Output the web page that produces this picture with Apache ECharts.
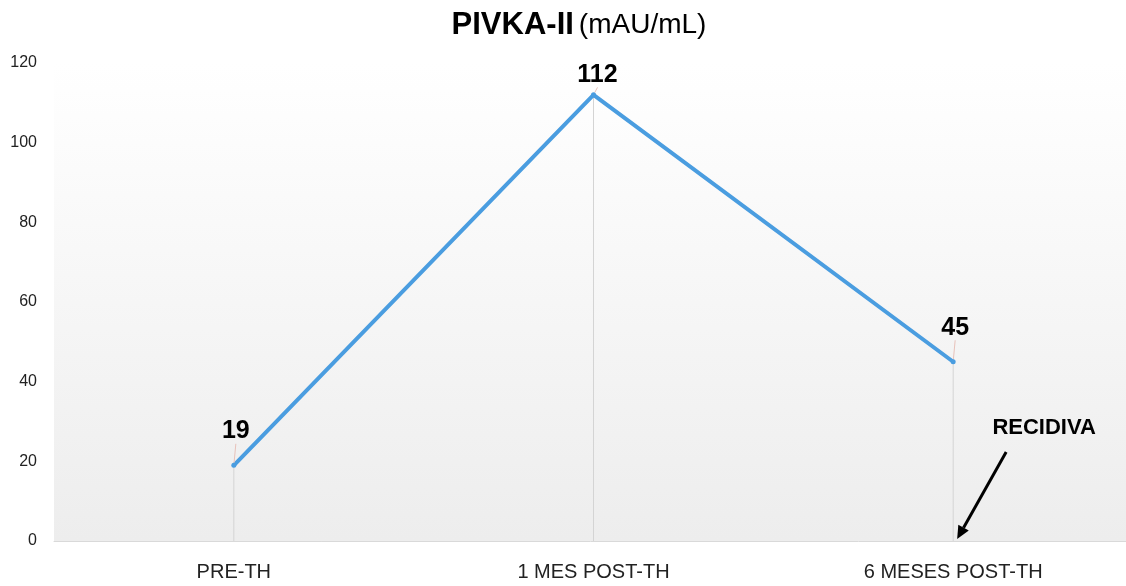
<!DOCTYPE html>
<html>
<head>
<meta charset="utf-8">
<script src="https://cdn.jsdelivr.net/npm/echarts@6/dist/echarts.min.js"></script>
<style>
  html, body { margin: 0; padding: 0; background: #ffffff; }
  #chart { width: 1126px; height: 586px; }
</style>
</head>
<body>
<div id="chart"></div>
<script>
// PIVKA-II follow-up values (mAU/mL)
const categories = ['PRE-TH', '1 MES POST-TH', '6 MESES POST-TH'];
const pivkaValues = [19, 112, 45];
const yTicks = { min: 0, max: 120, interval: 20 };
const recurrenceIndex = 2; // time point marked as recurrence

const FONT = '"Liberation Sans", Arial, sans-serif';
const chart = echarts.init(document.getElementById('chart'), null, { renderer: 'canvas' });

const option = {
  backgroundColor: '#ffffff',
  animation: false,
  title: {
    left: 574,
    textAlign: 'center',
    top: 5,
    text: '{b|PIVKA-II} {n|(mAU/mL)}',
    textStyle: {
      rich: {
        b: { fontFamily: FONT, fontWeight: 'bold', fontSize: 31, color: '#000000' },
        n: { fontFamily: FONT, fontWeight: 'normal', fontSize: 28, color: '#000000' }
      }
    }
  },
  grid: {
    left: 54,
    top: 63,
    width: 1079,
    height: 478,
    outerBoundsMode: 'none',
    containLabel: false,
    show: true,
    borderWidth: 0,
    backgroundColor: new echarts.graphic.LinearGradient(0, 0, 0, 1, [
      { offset: 0, color: 'rgba(255,255,255,1)' },
      { offset: 1, color: 'rgba(237,237,237,1)' }
    ])
  },
  xAxis: {
    type: 'category',
    data: categories,
    boundaryGap: true,
    axisLine: { show: true, lineStyle: { color: '#d9d9d9', width: 1 } },
    axisTick: { show: false },
    splitLine: { show: false },
    axisLabel: { fontFamily: FONT, fontSize: 20, color: '#222222', margin: 21 }
  },
  yAxis: {
    type: 'value',
    min: yTicks.min,
    max: yTicks.max,
    interval: yTicks.interval,
    axisLine: { show: false },
    axisTick: { show: false },
    splitLine: { show: false },
    axisLabel: { fontFamily: FONT, fontSize: 16, color: '#222222', margin: 17 }
  },
  series: [
    {
      // thin drop lines from each point down to the axis
      type: 'bar',
      data: pivkaValues,
      barWidth: 1,
      itemStyle: { color: '#d4d4d4' },
      silent: true,
      z: 1
    },
    {
      type: 'line',
      data: pivkaValues,
      symbol: 'circle',
      symbolSize: 5,
      showSymbol: true,
      itemStyle: { color: '#4a9de0' },
      lineStyle: { color: '#4a9de0', width: 4 },
      z: 3,
      label: {
        show: true,
        position: 'top',
        distance: 5,
        fontFamily: FONT,
        fontWeight: 'bold',
        fontSize: 25,
        color: '#000000'
      },
      labelLine: {
        show: true,
        lineStyle: { color: '#e8c2ba', width: 1 }
      },
      labelLayout: function (params) {
        if (params.dataIndex === 1) return { dx: 4 };
        return { dy: -14, dx: 2 };
      }
    }
  ]
};

chart.setOption(option);

// "RECIDIVA" annotation arrow pointing at the base of the recurrence time point
const base = chart.convertToPixel({ gridIndex: 0 }, [recurrenceIndex, yTicks.min]);
const tip = [base[0] + 4, base[1] - 2];
const tail = [base[0] + 53, base[1] - 89];
const ang = Math.atan2(tip[1] - tail[1], tip[0] - tail[0]);
const headLen = 13, headW = 6;
const back = [tip[0] - headLen * Math.cos(ang), tip[1] - headLen * Math.sin(ang)];
const px = -Math.sin(ang) * headW, py = Math.cos(ang) * headW;

chart.setOption({
  graphic: [
    {
      type: 'line',
      shape: { x1: tail[0], y1: tail[1], x2: back[0], y2: back[1] },
      style: { stroke: '#000000', lineWidth: 3 },
      z: 10
    },
    {
      type: 'polygon',
      shape: { points: [tip, [back[0] + px, back[1] + py], [back[0] - px, back[1] - py]] },
      style: { fill: '#000000' },
      z: 10
    },
    {
      type: 'text',
      x: base[0] + 91,
      y: base[1] - 113,
      style: {
        text: 'RECIDIVA',
        fontFamily: FONT,
        fontWeight: 'bold',
        fontSize: 22,
        fill: '#000000',
        align: 'center',
        verticalAlign: 'middle'
      },
      z: 10
    }
  ]
});
</script>
</body>
</html>
